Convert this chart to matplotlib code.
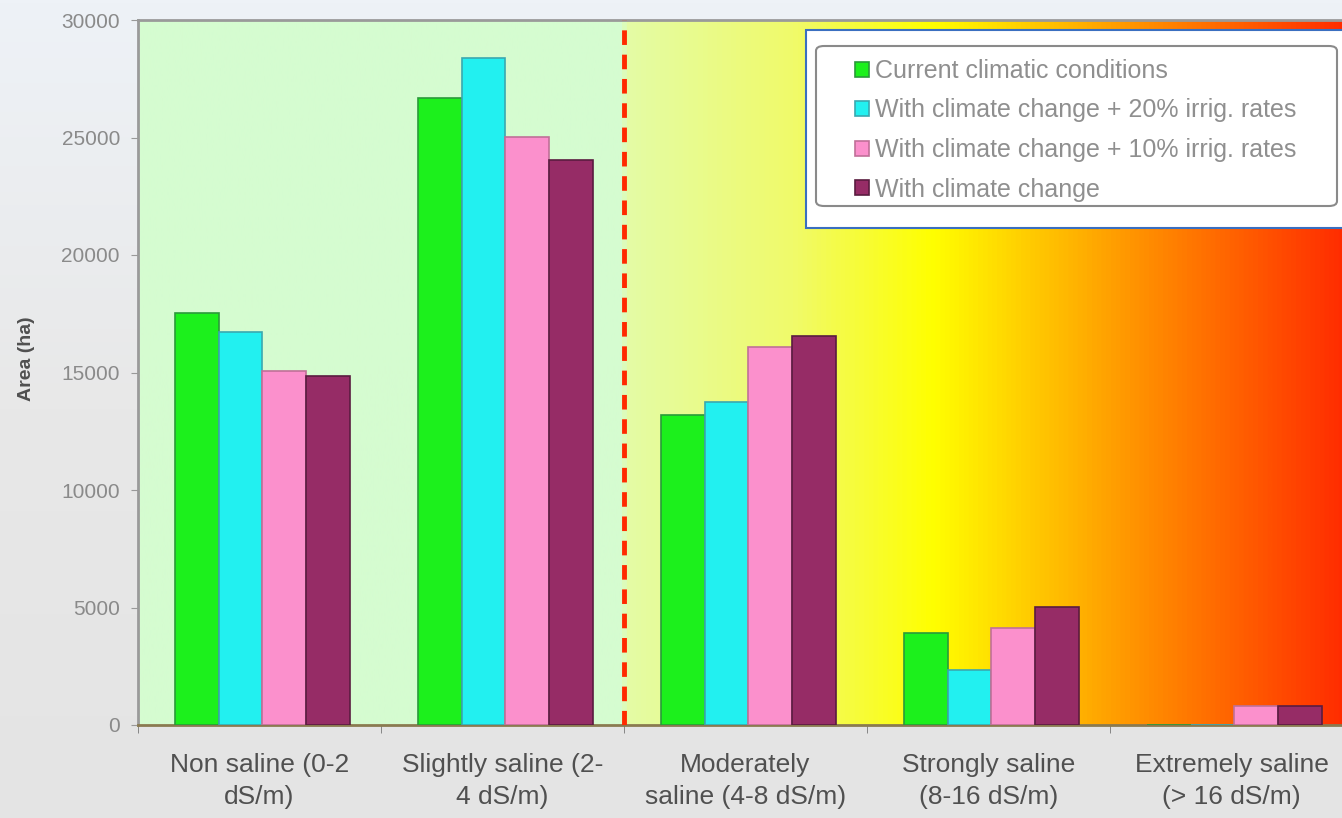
import numpy as np
import matplotlib.pyplot as plt
from matplotlib.colors import LinearSegmentedColormap
from matplotlib.patches import Rectangle, FancyBboxPatch

plt.rcParams['font.family'] = ['Liberation Sans', 'DejaVu Sans']

categories = ['Non saline (0-2\ndS/m)', 'Slightly saline (2-\n4 dS/m)',
              'Moderately\nsaline (4-8 dS/m)', 'Strongly saline\n(8-16 dS/m)',
              'Extremely saline\n(> 16 dS/m)']
series_names = ['Current climatic conditions',
                'With climate change + 20% irrig. rates',
                'With climate change + 10% irrig. rates',
                'With climate change']
current = [17550, 26680, 13190, 3910, 0]
cc_20 = [16720, 28380, 13740, 2340, 0]
cc_10 = [15060, 25020, 16090, 4130, 810]
cc = [14850, 24040, 16550, 5020, 810]
yticks = [0, 5000, 10000, 15000, 20000, 25000, 30000]

colors = ['#1cf01c', '#22f0f0', '#fb90cc', '#962c66']
edges = ['#2a9a3a', '#3aa8b0', '#c07098', '#5a1c40']

fig = plt.figure(figsize=(13.42, 8.18), dpi=100)

# figure background (faded photo look)
bg = fig.add_axes([0, 0, 1, 1], zorder=-10)
grad = np.linspace(0, 1, 256).reshape(-1, 1)
bg_cmap = LinearSegmentedColormap.from_list('bg', ['#e4e4e4', '#e8e8e8', '#eef2f7'])
bg.imshow(grad, aspect='auto', cmap=bg_cmap, extent=[0, 1, 0, 1], origin='lower')
bg.axis('off')

ax = fig.add_axes([138 / 1342, 93 / 818, 1215 / 1342, 705 / 818])

# background gradient of the plot area
stops = [(0.0, '#d5fcd0'), (0.399, '#d5fcd0'), (0.401, '#e4fca6'),
         (0.54, '#f0fa6a'), (0.655, '#ffff00'), (0.83, '#ff8e00'), (1.0, '#ff2800')]
bg_map = LinearSegmentedColormap.from_list('sal', stops)
ax.imshow(np.linspace(0, 1, 1024).reshape(1, -1), aspect='auto', cmap=bg_map,
          extent=[-0.5, 4.5, 0, 30000], zorder=0)

x = np.arange(len(categories))
w = 0.18
data = [current, cc_20, cc_10, cc]
for i, vals in enumerate(data):
    ax.bar(x + (i - 1.5) * w + 0.012, vals, width=w, color=colors[i],
           edgecolor=edges[i], linewidth=1.2, zorder=3, label=series_names[i])

ax.axvline(1.5, color='#ff2a00', linestyle=(0, (3, 2)), linewidth=3.5, zorder=4)

ax.set_xlim(-0.5, 4.5)
ax.set_ylim(0, 30000)
ax.set_yticks(yticks)
ax.set_yticklabels([str(v) for v in yticks], fontsize=15, color='#8a8a8a')
ax.set_xticks(x)
ax.set_xticklabels(categories, fontsize=19, color='#505050', linespacing=1.45)
ax.set_xticks(np.arange(-0.5, 5, 1), minor=True)
ax.tick_params(axis='x', which='major', length=0, pad=20)
ax.tick_params(axis='x', which='minor', length=6, color='#777777')
ax.tick_params(axis='y', length=5, color='#999999', pad=8)
ax.set_ylabel('Area (ha)', fontsize=14, color='#505050', fontweight='bold')
ax.yaxis.set_label_coords(-103 / 1215, 0.52)
for s in ['left', 'top']:
    ax.spines[s].set_color('#9a9a9a')
    ax.spines[s].set_linewidth(2)
ax.spines['bottom'].set_color('#8a7a50')
ax.spines['bottom'].set_linewidth(2)
ax.spines['right'].set_visible(False)

# legend box: white outer panel with blue edge, grey rounded inner frame
fig.patches.append(Rectangle((806 / 1342, 1 - 228 / 818), 0.5, 198 / 818,
                             transform=fig.transFigure, facecolor='white',
                             edgecolor='#3a6fc0', linewidth=1.5, zorder=5))
fig.patches.append(FancyBboxPatch((816 / 1342, 1 - 206 / 818), 521 / 1342, 160 / 818,
                                  boxstyle='round,pad=0,rounding_size=0.006',
                                  transform=fig.transFigure, facecolor='white',
                                  edgecolor='#8a8a8a', linewidth=1.5, zorder=5))
leg = fig.legend(loc='upper left', bbox_to_anchor=(855 / 1342, 1 - 59 / 818),
                 frameon=False, fontsize=18, handlelength=0.55, handleheight=0.55,
                 handletextpad=0.25, labelspacing=0.62, borderpad=0,
                 borderaxespad=0)
leg.set_zorder(6)
for t in leg.get_texts():
    t.set_color('#8f8f8f')

fig.savefig('out.png', dpi=100)
